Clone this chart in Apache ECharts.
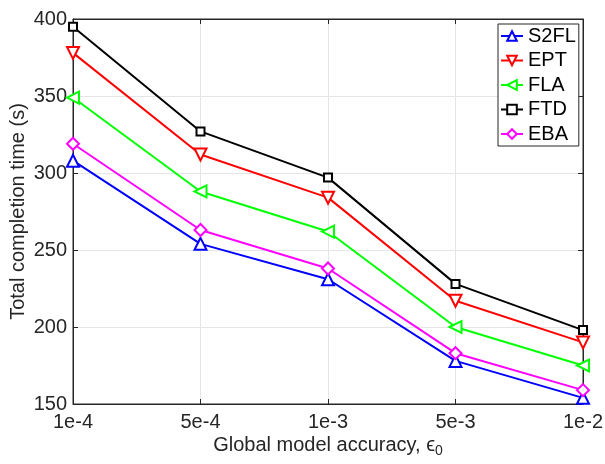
<!DOCTYPE html>
<html>
<head>
<meta charset="utf-8">
<script src="https://cdn.jsdelivr.net/npm/echarts@6/dist/echarts.min.js"></script>
<style>
  html, body { margin: 0; padding: 0; background: #fff; }
  #chart { width: 605px; height: 464px; }
</style>
</head>
<body>
<div id="chart"></div>
<script>
var categories = ['1e-4', '5e-4', '1e-3', '5e-3', '1e-2'];
var s2fl = [308, 254, 231, 178, 154];
var ept = [378, 312, 284, 217, 190];
var fla = [349, 288, 262, 200, 175];
var ftd = [395, 327, 297, 228, 198];
var eba = [319, 263, 238, 183, 159];
var yTicks = [150, 200, 250, 300, 350, 400];

var font = 'Liberation Sans, Arial, sans-serif';
var textColor = '#262626';

function mkSeries(name, data, color, symbol, rotate, size) {
  return {
    name: name,
    type: 'line',
    data: data,
    symbol: symbol,
    symbolSize: size,
    symbolRotate: rotate,
    lineStyle: {color: color, width: 2},
    itemStyle: {color: color, borderColor: color, borderWidth: 2},
    z: 3
  };
}

var option = {
  animation: false,
  backgroundColor: '#fff',
  grid: {left: 73, right: 22, top: 19, bottom: 60, show: true, borderColor: textColor, borderWidth: 1,
    containLabel: false, outerBoundsMode: 'none'},
  legend: {
    orient: 'vertical',
    left: 498,
    top: 24,
    itemWidth: 22,
    itemHeight: 12,
    itemGap: 4.5,
    padding: [2, 3, 2, 2],
    borderColor: textColor,
    borderWidth: 1,
    backgroundColor: '#fff',
    textStyle: {fontFamily: font, fontSize: 20, color: '#000', lineHeight: 20},
    data: ['S2FL', 'EPT', 'FLA', 'FTD', 'EBA']
  },
  xAxis: [{
    type: 'category',
    data: categories,
    boundaryGap: false,
    name: 'Global model accuracy, {e|ϵ}{sub|0}',
    nameLocation: 'middle',
    nameGap: 28,
    nameMoveOverlap: false,
    nameTextStyle: {
      fontFamily: font, fontSize: 20, color: textColor,
      rich: {
        e: {fontFamily: font, fontSize: 20, color: textColor},
        sub: {fontFamily: font, fontSize: 14, color: textColor, verticalAlign: 'bottom', padding: [12, 0, 0, 0]}
      }
    },
    axisLine: {lineStyle: {color: textColor, width: 1}},
    axisTick: {inside: true, length: 5, lineStyle: {color: textColor}},
    axisLabel: {fontFamily: font, fontSize: 20, color: textColor, margin: 8},
    splitLine: {show: true, lineStyle: {color: '#e5e5e5', width: 1}}
  }, {
    type: 'category',
    data: categories,
    boundaryGap: false,
    position: 'top',
    axisLine: {lineStyle: {color: textColor, width: 1}},
    axisTick: {inside: true, length: 5, lineStyle: {color: textColor}},
    axisLabel: {show: false},
    splitLine: {show: false}
  }],
  yAxis: [{
    type: 'value',
    min: yTicks[0],
    max: yTicks[yTicks.length - 1],
    interval: 50,
    name: 'Total completion time (s)',
    nameLocation: 'middle',
    nameGap: 45,
    nameMoveOverlap: false,
    nameTextStyle: {fontFamily: font, fontSize: 20, color: textColor},
    axisLine: {show: true, lineStyle: {color: textColor, width: 1}},
    axisTick: {show: true, inside: true, length: 5, lineStyle: {color: textColor}},
    axisLabel: {fontFamily: font, fontSize: 20, color: textColor, margin: 6},
    splitLine: {show: true, lineStyle: {color: '#e5e5e5', width: 1}}
  }, {
    type: 'value',
    min: yTicks[0],
    max: yTicks[yTicks.length - 1],
    interval: 50,
    position: 'right',
    axisLine: {show: true, lineStyle: {color: textColor, width: 1}},
    axisTick: {show: true, inside: true, length: 5, lineStyle: {color: textColor}},
    axisLabel: {show: false},
    splitLine: {show: false}
  }],
  series: [
    mkSeries('S2FL', s2fl, '#0000ff', 'emptyTriangle', 0, 12),
    mkSeries('EPT', ept, '#ff0000', 'emptyTriangle', 180, 12),
    mkSeries('FLA', fla, '#00ff00', 'emptyTriangle', 90, 12),
    mkSeries('FTD', ftd, '#000000', 'emptyRect', 0, 8),
    mkSeries('EBA', eba, '#ff00ff', 'emptyDiamond', 0, 12)
  ]
};

var chart = echarts.init(document.getElementById('chart'));
chart.setOption(option);
</script>
</body>
</html>
